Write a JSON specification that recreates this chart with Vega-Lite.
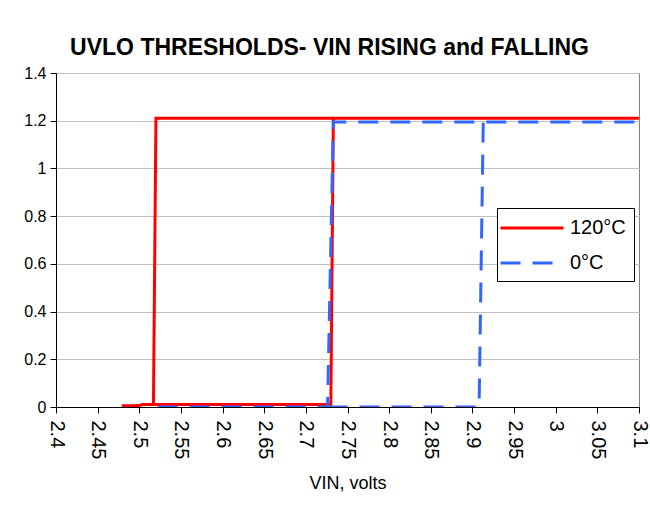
{
  "$schema": "https://vega.github.io/schema/vega-lite/v6.json",
  "width": 583,
  "height": 334,
  "autosize": {"type": "none"},
  "padding": {"left": 56, "top": 73, "right": 11, "bottom": 107},
  "background": "white",
  "title": {
    "text": "UVLO THRESHOLDS- VIN RISING and FALLING",
    "font": "Liberation Sans",
    "fontSize": 23,
    "fontWeight": "bold",
    "color": "black",
    "anchor": "middle",
    "offset": 5,
    "dx": -18
  },
  "config": {
    "view": {"stroke": "#808080", "strokeWidth": 1},
    "axis": {
      "labelFont": "Liberation Sans",
      "labelFontSize": 16,
      "labelColor": "black",
      "titleFont": "Liberation Sans",
      "titleFontSize": 18,
      "titleFontWeight": "normal",
      "titleColor": "black",
      "domainColor": "black",
      "tickColor": "black",
      "tickSize": 6,
      "gridColor": "#C0C0C0",
      "gridWidth": 1
    },
    "legend": {
      "labelFont": "Liberation Sans",
      "labelFontSize": 20,
      "labelColor": "black"
    }
  },
  "data": {
    "values": [
      {"series": "120°C", "seg": "r1", "o": 1, "vin": 2.479, "v": 0.005},
      {"series": "120°C", "seg": "r1", "o": 2, "vin": 2.5, "v": 0.006},
      {"series": "120°C", "seg": "r1", "o": 3, "vin": 2.503, "v": 0.01},
      {"series": "120°C", "seg": "r1", "o": 4, "vin": 2.73, "v": 0.01},
      {"series": "120°C", "seg": "r1", "o": 5, "vin": 2.733, "v": 1.21},
      {"series": "120°C", "seg": "r1", "o": 6, "vin": 3.1, "v": 1.21},
      {"series": "120°C", "seg": "r2", "o": 1, "vin": 2.733, "v": 1.21},
      {"series": "120°C", "seg": "r2", "o": 2, "vin": 2.52, "v": 1.21},
      {"series": "120°C", "seg": "r2", "o": 3, "vin": 2.517, "v": 0.008},
      {"series": "0°C", "seg": "b1", "o": 1, "vin": 2.522, "v": 0},
      {"series": "0°C", "seg": "b1", "o": 2, "vin": 2.726, "v": 0},
      {"series": "0°C", "seg": "b1", "o": 3, "vin": 2.733, "v": 1.195},
      {"series": "0°C", "seg": "b1", "o": 4, "vin": 3.1, "v": 1.195},
      {"series": "0°C", "seg": "b2", "o": 1, "vin": 2.726, "v": 0},
      {"series": "0°C", "seg": "b2", "o": 2, "vin": 2.908, "v": 0},
      {"series": "0°C", "seg": "b2", "o": 3, "vin": 2.913, "v": 1.195}
    ]
  },
  "encoding": {
    "x": {
      "field": "vin",
      "type": "quantitative",
      "scale": {"domain": [2.4, 3.1], "nice": false, "zero": false},
      "axis": {
        "values": [2.4, 2.45, 2.5, 2.55, 2.6, 2.65, 2.7, 2.75, 2.8, 2.85, 2.9, 2.95, 3, 3.05, 3.1],
        "format": "~g",
        "labelAngle": 90,
        "labelAlign": "left",
        "labelBaseline": "middle",
        "labelFontSize": 20,
        "labelPadding": 7,
        "labelOverlap": false,
        "grid": false,
        "title": "VIN, volts",
        "titlePadding": 16
      }
    },
    "y": {
      "field": "v",
      "type": "quantitative",
      "scale": {"domain": [0, 1.4], "nice": false},
      "axis": {
        "values": [0, 0.2, 0.4, 0.6, 0.8, 1, 1.2, 1.4],
        "format": "~g",
        "labelPadding": 4,
        "grid": true,
        "title": null
      }
    },
    "color": {
      "field": "series",
      "type": "nominal",
      "scale": {"domain": ["120°C", "0°C"], "range": ["#FF0000", "#3366FF"]},
      "legend": {
        "title": null,
        "orient": "none",
        "legendX": 441,
        "legendY": 135,
        "symbolType": "M-3,0H3",
        "symbolSize": 441,
        "symbolOffset": 15,
        "symbolStrokeWidth": 3,
        "strokeColor": "black",
        "fillColor": "white",
        "padding": 8,
        "rowPadding": 13,
        "labelOffset": 26
      }
    },
    "strokeDash": {
      "field": "series",
      "type": "nominal",
      "scale": {"domain": ["120°C", "0°C"], "range": [[1, 0], [20, 12]]},
      "legend": null
    },
    "detail": {"field": "seg"},
    "order": {"field": "o"}
  },
  "layer": [
    {
      "transform": [{"filter": "datum.series === '120°C'"}],
      "mark": {"type": "line", "strokeWidth": 3, "clip": true}
    },
    {
      "transform": [{"filter": "datum.series === '0°C'"}],
      "mark": {"type": "line", "strokeWidth": 3, "clip": true}
    }
  ]
}
